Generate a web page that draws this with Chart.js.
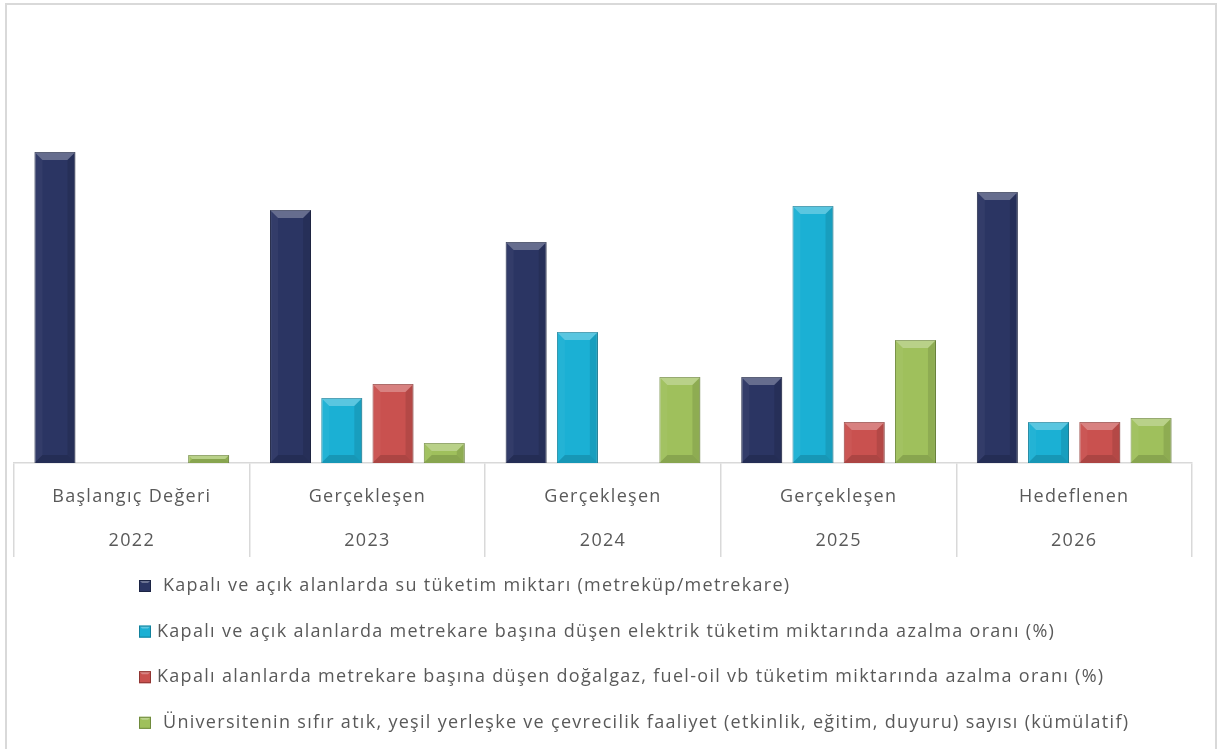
<!DOCTYPE html>
<html>
<head>
<meta charset="utf-8">
<script src="https://cdn.jsdelivr.net/npm/chart.js@4"></script>
<style>
  html, body { margin:0; padding:0; background:#fff; }
  canvas { display:block; }
</style>
</head>
<body>
<canvas id="chart" width="1227" height="749"></canvas>
<script>
// ─── DATA ─────────────────────────────────────────────────────────────────────
const categories = [
  ['Başlangıç Değeri','2022'],
  ['Gerçekleşen','2023'],
  ['Gerçekleşen','2024'],
  ['Gerçekleşen','2025'],
  ['Hedeflenen','2026']
];
const seriesNames = [
  ' Kapalı ve açık alanlarda su tüketim miktarı (metreküp/metrekare)',
  'Kapalı ve açık alanlarda metrekare başına düşen elektrik tüketim miktarında azalma oranı (%)',
  'Kapalı alanlarda metrekare başına düşen doğalgaz, fuel-oil vb tüketim miktarında azalma oranı (%)',
  ' Üniversitenin sıfır atık, yeşil yerleşke ve çevrecilik faaliyet (etkinlik, eğitim, duyuru) sayısı (kümülatif)'
];
const suTuketim   = [31.1, 25.3, 22.1, 8.6, 27.1];
const elektrik    = [null, 6.5, 13.1, 25.7, 4.1];
const dogalgaz    = [null, 7.9, null, 4.1, 4.1];
const faaliyet    = [0.8, 2.0, 8.6, 12.3, 4.5];

const colors  = ['#2B3563','#1BB0D4','#C9514F','#9FC05C'];
const borders = ['#1c2444','#12809b','#8f3532','#6f8a3c'];

const FONT = '"Open Sans", "Noto Sans", sans-serif';
const SPACING = '1.3px';

// ─── PLUGINS ──────────────────────────────────────────────────────────────────
// espaciado de letras + marco exterior
const frame = {
  id:'frame',
  beforeLayout(chart){ chart.ctx.letterSpacing = SPACING; },
  beforeDraw(chart){
    const c = chart.ctx;
    c.letterSpacing = SPACING;
    c.save();
    c.strokeStyle = '#d9d9d9'; c.lineWidth = 2;
    c.strokeRect(6, 4, 1210, 800);
    c.restore();
  }
};

// efecto bisel sobre cada barra
const bevel = {
  id:'bevel',
  afterDatasetsDraw(chart){
    const c = chart.ctx;
    chart.data.datasets.forEach((ds,i)=>{
      const meta = chart.getDatasetMeta(i);
      meta.data.forEach(bar=>{
        if (bar.skip || bar.y == null || isNaN(bar.y)) return;
        const {x,y,base,width} = bar.getProps(['x','y','base','width'], true);
        const l = x-width/2, r = x+width/2, t = y, b = base;
        const h = b - t; if (h <= 0) return;
        const s = Math.min(8, h/2);
        c.save();
        const poly = (pts, fill)=>{ c.beginPath(); c.moveTo(pts[0][0],pts[0][1]); pts.slice(1).forEach(p=>c.lineTo(p[0],p[1])); c.closePath(); c.fillStyle=fill; c.fill(); };
        poly([[l,t],[r,t],[r-s,t+s],[l+s,t+s]], 'rgba(255,255,255,0.28)');
        poly([[l,t],[l+s,t+s],[l+s,b-s],[l,b]], 'rgba(255,255,255,0.04)');
        poly([[r,t],[r-s,t+s],[r-s,b-s],[r,b]], 'rgba(0,0,0,0.10)');
        poly([[l,b],[l+s,b-s],[r-s,b-s],[r,b]], 'rgba(0,0,0,0.14)');
        c.restore();
      });
    });
  }
};

// leyenda en lista, alineada a la izquierda
const listLegend = {
  id:'listLegend',
  afterDraw(chart){
    const c = chart.ctx;
    const x0 = 139, y0 = 586, step = 45.6, box = 12;
    c.save();
    c.letterSpacing = SPACING;
    c.font = '18px ' + FONT;
    c.textBaseline = 'middle';
    chart.data.datasets.forEach((ds,i)=>{
      const cy = y0 + i*step;
      c.fillStyle = ds.backgroundColor;
      c.fillRect(x0, cy-box/2, box, box);
      c.fillStyle = 'rgba(255,255,255,0.3)';
      c.beginPath(); c.moveTo(x0,cy-box/2); c.lineTo(x0+box,cy-box/2); c.lineTo(x0+box-3,cy-box/2+3); c.lineTo(x0+3,cy-box/2+3); c.fill();
      c.strokeStyle = ds.borderColor; c.lineWidth = 1;
      c.strokeRect(x0+0.5, cy-box/2+0.5, box-1, box-1);
      c.fillStyle = '#595959';
      c.fillText(ds.label, x0+box+6, cy);
    });
    c.restore();
  }
};

// ─── CHART ────────────────────────────────────────────────────────────────────
const mk = (label, data, i) => ({
  label, data,
  backgroundColor: colors[i], borderColor: borders[i], borderWidth: 1,
  categoryPercentage: 0.87, barPercentage: 0.8
});

new Chart(document.getElementById('chart'), {
  type:'bar',
  data:{
    labels: categories,
    datasets:[
      mk(seriesNames[0], suTuketim, 0),
      mk(seriesNames[1], elektrik, 1),
      mk(seriesNames[2], dogalgaz, 2),
      mk(seriesNames[3], faaliyet, 3)
    ]
  },
  options:{
    responsive:false, animation:false, devicePixelRatio:1,
    layout:{ padding:{ left:14, right:35, top:20, bottom:192 } },
    plugins:{ legend:{display:false}, tooltip:{enabled:false} },
    scales:{
      y:{ display:false, min:0, max:44.3 },
      x:{
        afterFit: s => { s.height = 94; },
        grid:{ offset:true, drawOnChartArea:false, drawTicks:true, tickLength:94, color:'#d9d9d9', lineWidth:1.5 },
        border:{ display:true, color:'#d9d9d9', width:1.5 },
        ticks:{ padding:-82, color:'#595959', maxRotation:0, autoSkip:false,
                font:{ family:FONT, size:18, lineHeight:44/18 } }
      }
    }
  },
  plugins:[frame, bevel, listLegend]
});
</script>
</body>
</html>
